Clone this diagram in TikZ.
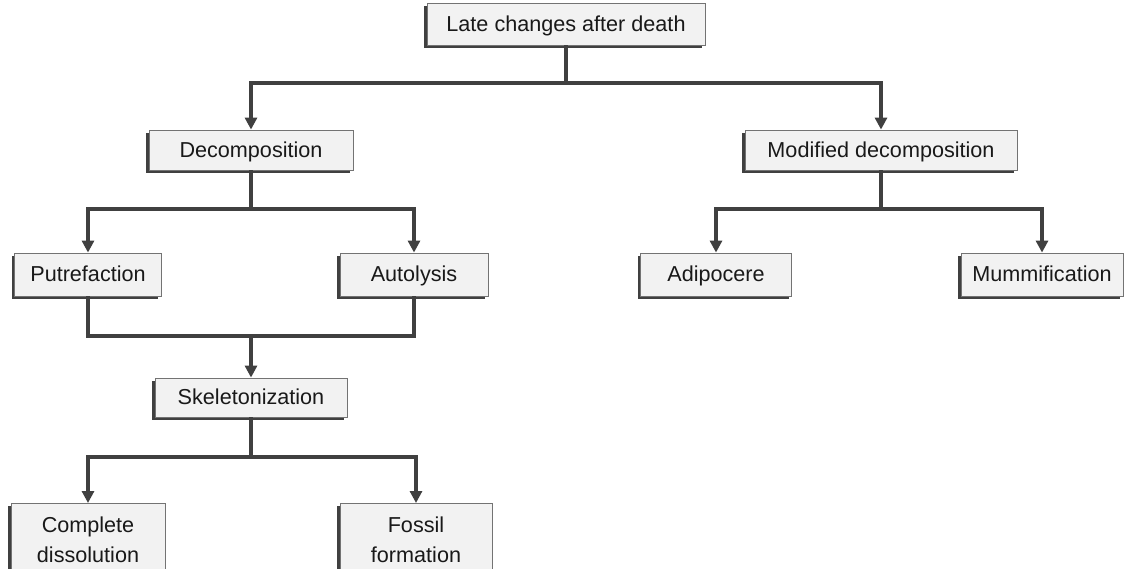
\documentclass[tikz,border=0pt]{standalone}
\usepackage{fontspec}
\setmainfont{Liberation Sans}
\usepackage{xcolor}
\usepackage{tikz}
\usetikzlibrary{arrows.meta,positioning,shadows}

\begin{document}
\begin{tikzpicture}[
  x=0.02cm, y=-0.02cm,
  every node/.style={font=\fontsize{12.3}{17}\selectfont, text=black!90},
  stage/.style={draw=black!55, line width=0.5pt, fill=black!5, inner sep=0pt,
    align=center, minimum height=0.8cm, text height=1em, text depth=0.15em,
    general shadow={fill=black!75, shadow xshift=-0.06cm, shadow yshift=-0.06cm}},
  link/.style={draw=black!75, line width=1.9pt},
  arrow/.style={link, -{Triangle[length=0.24cm, width=0.24cm]}}
]
\clip (0,0) rectangle (1124,568);
% ---- boxes ----
\node[stage, minimum width=5.56cm, minimum height=0.84cm] (late) at (566,24) {Late changes after death};
\node[stage, minimum width=4.08cm] (decomp) at (251,150) {Decomposition};
\node[stage, minimum width=5.44cm] (modified) at (881,150) {Modified decomposition};
\node[stage, minimum width=2.94cm, minimum height=0.86cm] (putref) at (88,274.5) {Putrefaction};
\node[stage, minimum width=2.96cm, minimum height=0.86cm] (autolysis) at (414,274.5) {Autolysis};
\node[stage, minimum width=3.02cm, minimum height=0.86cm] (adipocere) at (716,274.5) {Adipocere};
\node[stage, minimum width=3.24cm, minimum height=0.86cm] (mummy) at (1042,274.5) {Mummification};
\node[stage, minimum width=3.84cm, minimum height=0.78cm] (skeleton) at (251,397.5) {Skeletonization};
\node[stage, anchor=north, minimum width=3.08cm, minimum height=1.44cm, text height=, text depth=] (dissolve) at (88,503) {Complete\\dissolution};
\node[stage, anchor=north, minimum width=3.04cm, minimum height=1.44cm, text height=, text depth=] (fossil) at (416,503) {Fossil\\formation};
% ---- junctions ----
\coordinate (split-top) at (566,83);
\coordinate (split-decomp) at (251,209);
\coordinate (split-mod) at (881,209);
\coordinate (merge) at (251,336);
\coordinate (split-skel) at (251,457);
% ---- connectors ----
\draw[arrow] (late.south) -- (split-top) -| (decomp.north);
\draw[arrow] (split-top) -| (modified.north);
\draw[arrow] (decomp.south) -- (split-decomp) -| (putref.north);
\draw[arrow] (split-decomp) -| (autolysis.north);
\draw[arrow] (modified.south) -- (split-mod) -| (adipocere.north);
\draw[arrow] (split-mod) -| (mummy.north);
\draw[link] (putref.south) |- (merge) -| (autolysis.south);
\draw[arrow] (merge) -- (skeleton.north);
\draw[arrow] (skeleton.south) -- (split-skel) -| (dissolve.north);
\draw[arrow] (split-skel) -| (fossil.north);
\end{tikzpicture}
\end{document}
